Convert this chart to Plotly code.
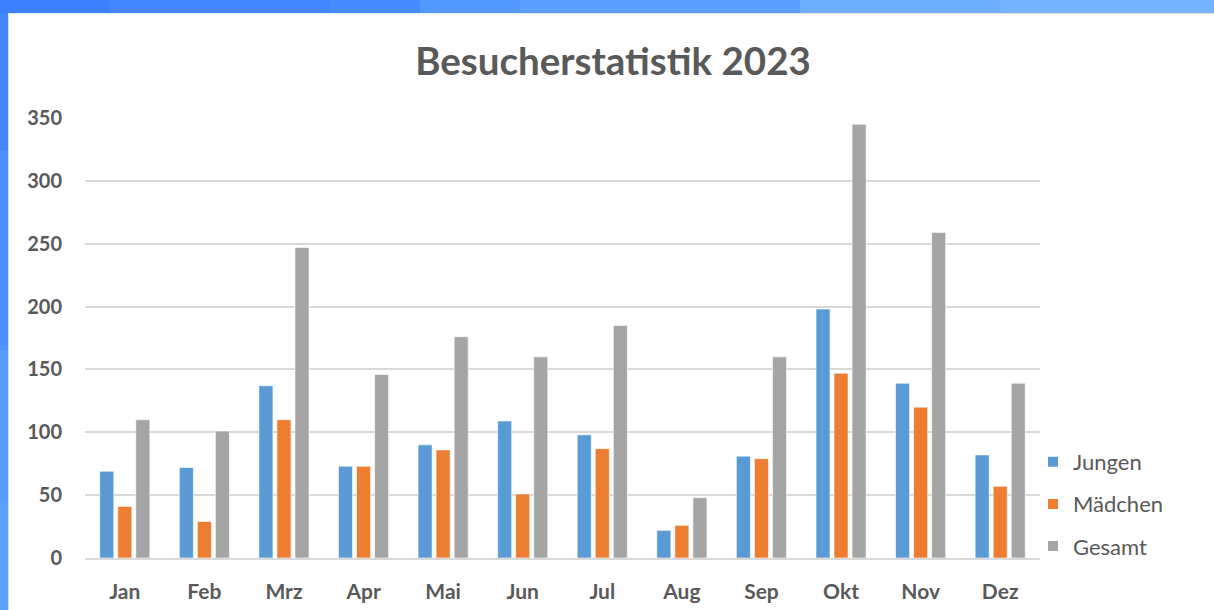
import plotly.graph_objects as go

months = ["Jan", "Feb", "Mrz", "Apr", "Mai", "Jun", "Jul", "Aug", "Sep", "Okt", "Nov", "Dez"]
jungen = [69, 72, 137, 73, 90, 109, 98, 22, 81, 198, 139, 82]
maedchen = [41, 29, 110, 73, 86, 51, 87, 26, 79, 147, 120, 57]
gesamt = [110, 101, 247, 146, 176, 160, 185, 48, 160, 345, 259, 139]
y_ticks = [0, 50, 100, 150, 200, 250, 300, 350]

FONT = "Lato, 'Open Sans', sans-serif"
TXT = "#595959"

fig = go.Figure()
for name, vals, col in [("Jungen", jungen, "#5B9BD5"),
                        ("Mädchen", maedchen, "#ED7D31"),
                        ("Gesamt", gesamt, "#A5A5A5")]:
    fig.add_trace(go.Bar(x=months, y=vals, name=name, legendgroup=name,
                         marker=dict(color=col, line=dict(color="white", width=0.6))))

W, H = 1214, 610
L, R, T, B = 85, 174, 118, 52
PW, PH = W - L - R, H - T - B


def px_x(p):
    return (p - L) / PW


def px_y(p):
    return (H - B - p) / PH


shapes = []
# top band: horizontal colour steps
top_steps = [(0, 110, "#3D80FF"), (110, 330, "#4386FF"), (330, 420, "#478CFF"),
             (420, 520, "#5298FF"), (520, 800, "#5A9FFF"), (800, 1000, "#6EAEFF"),
             (1000, W, "#73B3FF")]
for x0, x1, c in top_steps:
    shapes.append(dict(type="rect", xref="paper", yref="paper", x0=px_x(x0), x1=px_x(x1),
                       y0=px_y(13), y1=px_y(0), line=dict(width=0), fillcolor=c,
                       layer="below"))
# left strip: vertical colour steps
left_steps = [(13, 150, "#4387FF"), (150, 350, "#4D92FF"), (350, 500, "#579CFF"),
              (500, H, "#5CA1FF")]
for y0, y1, c in left_steps:
    shapes.append(dict(type="rect", xref="paper", yref="paper", x0=px_x(0), x1=px_x(8),
                       y0=px_y(y1), y1=px_y(y0), line=dict(width=0), fillcolor=c,
                       layer="below"))
shapes.append(dict(type="line", xref="paper", yref="paper", x0=px_x(8.5), x1=px_x(8.5),
                   y0=px_y(H), y1=px_y(13), line=dict(width=1, color="#DADADA"),
                   layer="below"))
shapes.append(dict(type="line", xref="paper", yref="paper", x0=px_x(8), x1=px_x(W),
                   y0=px_y(13.5), y1=px_y(13.5), line=dict(width=1, color="#E4E4E4"),
                   layer="below"))

fig.update_layout(
    width=W, height=H,
    paper_bgcolor="white", plot_bgcolor="white",
    margin=dict(l=L, r=R, t=T, b=B, autoexpand=False),
    title=dict(text="<b>Besucherstatistik 2023</b>", x=613 / W, xanchor="center",
               y=1 - 62 / H, yanchor="middle",
               font=dict(family=FONT, size=38.5, color=TXT)),
    barmode="group", bargap=0.32, bargroupgap=0.22,
    font=dict(family=FONT, color=TXT),
    xaxis=dict(showgrid=False, showline=True, linecolor="#D9D9D9", linewidth=1.5,
               tickfont=dict(family=FONT, size=21, color=TXT, weight="bold"),
               ticks="", ticklabelstandoff=14, automargin=False),
    yaxis=dict(range=[0, 350], tickvals=y_ticks, showgrid=True, gridcolor="#D9D9D9",
               gridwidth=1.5, zeroline=False, showline=False,
               tickfont=dict(family=FONT, size=20, color=TXT, weight="bold"),
               ticks="", ticklabelstandoff=22, automargin=False),
    legend=dict(x=px_x(1033), y=px_y(441), xanchor="left", yanchor="top",
                font=dict(family=FONT, size=22, color=TXT), itemsizing="constant",
                itemwidth=30, tracegroupgap=10.5, bgcolor="rgba(0,0,0,0)"),
    shapes=shapes,
)
fig.write_html("out.html", config={"displayModeBar": False},
               post_script="document.body.style.margin='0';")
